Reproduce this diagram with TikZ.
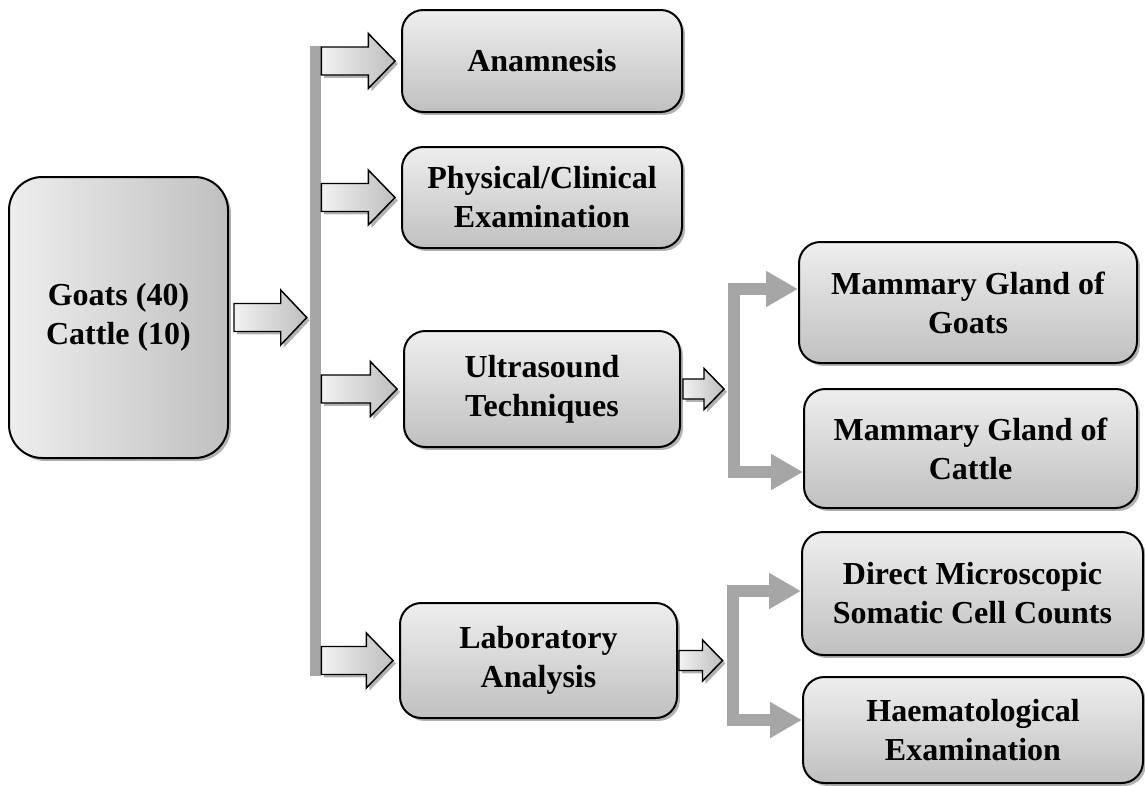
\documentclass[tikz,border=0pt]{standalone}
\usepackage{fontspec}
\setmainfont{Liberation Serif}
\usetikzlibrary{calc,shadows,arrows.meta}
\definecolor{barg}{RGB}{166,166,166}
\definecolor{lite}{RGB}{238,238,238}
\definecolor{dark}{RGB}{192,192,192}
\definecolor{alite}{RGB}{242,242,242}
\definecolor{adark}{RGB}{190,190,190}
\tikzset{
  shad/.style={drop shadow={shadow xshift=2.2pt, shadow yshift=-2.2pt, fill=black, opacity=0.3}},
  box/.style={draw=black, line width=1.5pt, rounded corners=16pt, top color=lite, bottom color=dark,
    inner sep=0pt, align=center, font=\bfseries\fontsize{24}{29.25}\selectfont, shad},
  sz/.style 2 args={minimum width=#1*0.75pt, minimum height=#2*0.75pt},
  srcbox/.style={box, rounded corners=25pt, left color=lite, right color=dark},
  barrow/.style={draw=black, line width=1.1pt, line join=miter, left color=alite, right color=adark, shad},
  busbar/.style={fill=barg, inner sep=0pt, minimum width=11*0.75pt, minimum height=630*0.75pt},
  gline/.style={draw=barg, line width=9pt, line join=miter,
    arrows={Triangle[length=24pt,width=25.5pt,fill=barg,color=barg]-Triangle[length=24pt,width=25.5pt,fill=barg,color=barg]}},
}
% #1 start, #2 end (tip), #3 shaft half, #4 head half, #5 head length
\newcommand\blockarrow[5]{%
  \path[barrow] let \p1=(#1), \p2=(#2) in
    (\x1,\y1+#3) -- (\x2-#5,\y1+#3) -- (\x2-#5,\y1+#4) -- (\x2,\y1) --
    (\x2-#5,\y1-#4) -- (\x2-#5,\y1-#3) -- (\x1,\y1-#3) -- cycle;}
\begin{document}
\begin{tikzpicture}[x=0.75pt,y=-0.75pt]
\useasboundingbox (0,0) rectangle (1145,785);

% boxes
\node[srcbox, sz={219}{281}] (src) at (118.5,317.5) {Goats (40)\\Cattle (10)};
\node[box, sz={280}{102}] (anam) at (542,61) {Anamnesis};
\node[box, sz={280}{101}] (phys) at (542,197.5) {Physical/Clinical\\Examination};
\node[box, sz={276}{116}] (ultra) at (542,389) {Ultrasound\\Techniques};
\node[box, sz={277}{115}] (lab) at (538.5,660.5) {Laboratory\\Analysis};
\node[box, sz={338}{121}] (goats) at (968,302.5) {Mammary Gland of\\Goats};
\node[box, sz={333}{119}] (cattle) at (970.5,448.5) {Mammary Gland of\\Cattle};
\node[box, sz={341}{123}] (direct) at (972.5,593.5) {Direct Microscopic\\Somatic Cell Counts};
\node[box, sz={340}{106}] (haem) at (973,730) {Haematological\\Examination};

% bus bar
\node[busbar] (bus) at (315.5,361) {};

% block arrows
\blockarrow{[xshift=3.75pt]src.east}{[xshift=-2.25pt]bus.west}{10.5pt}{20.6pt}{19.5pt}
\blockarrow{bus.east |- anam.west}{[xshift=-4.5pt]anam.west}{10.5pt}{20.6pt}{20pt}
\blockarrow{bus.east |- phys.west}{[xshift=-4.5pt]phys.west}{10.5pt}{20.6pt}{20pt}
\blockarrow{bus.east |- ultra.west}{[xshift=-4.5pt]ultra.west}{10.5pt}{20.6pt}{20pt}
\blockarrow{bus.east |- lab.west}{[xshift=-4.5pt]lab.west}{10.5pt}{20.6pt}{20pt}

% bracket coordinates
\coordinate (ubT) at (734,289);
\coordinate (ubB) at (734,472);
\coordinate (lbT) at (732.5,591);
\coordinate (lbB) at (732.5,720);

\blockarrow{[xshift=1.5pt]ultra.east}{[xshift=-7.5pt]ubT |- ultra.east}{7.5pt}{15.4pt}{15pt}
\blockarrow{[xshift=0.75pt]lab.east}{[xshift=-7.5pt]lbT |- lab.east}{7.5pt}{15.4pt}{15pt}

% gray brackets
\draw[gline] (goats.west |- ubT) -- (ubT) -- (ubB) -- (cattle.west |- ubB);
\draw[gline] (direct.west |- lbT) -- (lbT) -- (lbB) -- (haem.west |- lbB);
\end{tikzpicture}
\end{document}
